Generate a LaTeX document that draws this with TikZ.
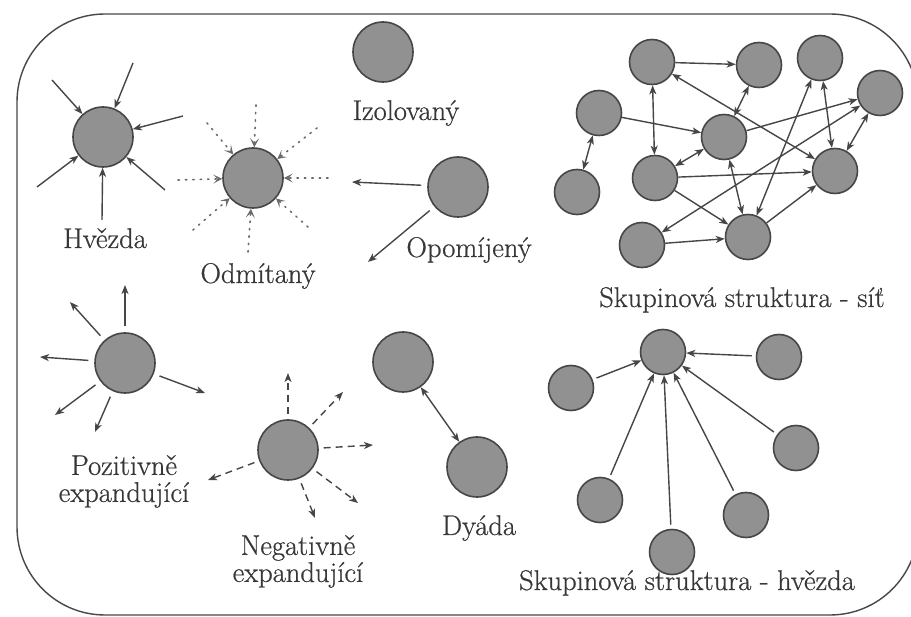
\documentclass[tikz,border=0pt]{standalone}
\usepackage{fontspec}
\newfontfamily\lblfont{Latin Modern Roman}[FakeBold=0.6]
\usetikzlibrary{arrows.meta}
\definecolor{cline}{RGB}{70,70,70}
\definecolor{cfill}{RGB}{145,145,145}
\definecolor{aline}{RGB}{70,70,70}
\definecolor{tcol}{RGB}{55,55,55}
\tikzset{
  pers/.style={circle, draw=cline, fill=cfill, line width=1.6pt, minimum size=60pt, inner sep=0pt},
  spers/.style={pers, minimum size=45pt},
  tip/.tip={Stealth[length=9pt,width=7pt,inset=2.5pt]},
  arr/.style={draw=aline, line width=1.4pt, -tip},
  darr/.style={draw=aline, line width=1.4pt, tip-tip},
  dotarr/.style={draw=aline!80, line width=1.6pt, dash pattern=on 1.4pt off 6pt, line cap=round,
     -{Stealth[length=9pt,width=9pt,inset=4.5pt]}},
  dasharr/.style={draw=aline, line width=1.4pt, dash pattern=on 7pt off 5pt, -tip},
  lbl/.style={text=tcol, font=\lblfont\fontsize{28.5}{27}\selectfont, inner sep=0pt, anchor=base},
  lbl2/.style={lbl, align=center, anchor=north},
  frame/.style={draw=black!72, line width=1.4pt, rounded corners=88pt}
}
\begin{document}
\begin{tikzpicture}[x=1pt, y=-1pt]
\useasboundingbox (0,0) rectangle (911,617);
\fill[white] (0,0) rectangle (911,617);
\draw[frame] (17,14) rectangle (918,615);

% Hvezda
\node[pers] (hv) at (103,137) {};
\coordinate (h1) at (52,80);
\coordinate (h2) at (133,63);
\coordinate (h3) at (183,116);
\coordinate (h4) at (165,190);
\coordinate (h5) at (102,220);
\coordinate (h6) at (37,187);
\foreach \c in {h1,h2,h3,h4,h5,h6} \draw[arr] (\c) -- (hv);
\node[lbl] (lhv) at (105,248) {Hvězda};

% Izolovany
\node[pers] (iz) at (383,52) {};
\node[lbl] (liz) at (406,120) {Izolovaný};

% Odmitany
\node[pers] (od) at (253,178) {};
\coordinate (o1) at (256,105);
\coordinate (o2) at (317,128);
\coordinate (o3) at (328,178);
\coordinate (o4) at (308,227);
\coordinate (o5) at (248,252);
\coordinate (o6) at (193,230);
\coordinate (o7) at (178,180);
\coordinate (o8) at (207,123);
\foreach \c in {o1,o2,o3,o4,o5,o6,o7,o8} \draw[dotarr] (\c) -- (od);
\node[lbl] (lod) at (258,283) {Odmítaný};

% Opomijeny
\node[pers] (op) at (458,187) {};
\coordinate (p1) at (352,182);
\coordinate (p2) at (368,262);
\draw[arr, shorten <=6pt] (op) -- (p1);
\draw[arr, shorten <=6pt] (op) -- (p2);
\node[lbl] (lop) at (469,257) {Opomíjený};

% Pozitivne expandujici
\node[pers] (pe) at (125,363) {};
\coordinate (e1) at (125,285);
\coordinate (e2) at (70,302);
\coordinate (e3) at (40,357);
\coordinate (e4) at (55,415);
\coordinate (e5) at (95,432);
\coordinate (e6) at (205,393);
\foreach \c in {e1,e2,e3,e4,e5,e6} \draw[arr, shorten <=6pt] (pe) -- (\c);
\node[lbl2] (lpe) at (124,455) {Pozitivně\\expandující};

% Negativne expandujici
\node[pers] (ne) at (288,450) {};
\coordinate (n1) at (288,373);
\coordinate (n2) at (343,392);
\coordinate (n3) at (373,445);
\coordinate (n4) at (358,503);
\coordinate (n5) at (315,518);
\coordinate (n6) at (208,480);
\foreach \c in {n1,n2,n3,n4,n5,n6} \draw[dasharr, shorten <=5pt] (ne) -- (\c);
\node[lbl2] (lne) at (298,535) {Negativně\\expandující};

% Dyada
\node[pers] (d1) at (403,362) {};
\node[pers] (d2) at (477,467) {};
\draw[darr] (d1) -- (d2);
\node[lbl] (ldy) at (479,535) {Dyáda};

% Skupinova struktura - sit
\node[spers] (N1) at (652,62) {};
\node[spers] (N2) at (759,65) {};
\node[spers] (N3) at (820,58) {};
\node[spers] (N4) at (880,93) {};
\node[spers] (N5) at (599,113) {};
\node[spers] (N6) at (724,137) {};
\node[spers] (N7) at (655,178) {};
\node[spers] (N8) at (835,171) {};
\node[spers] (N9) at (577,192) {};
\node[spers] (N10) at (642,245) {};
\node[spers] (N11) at (748,237) {};
\draw[arr] (N1) -- (N2);
\draw[darr] (N1) -- (N7);
\draw[darr] (N1) -- (N8);
\draw[arr] (N5) -- (N6);
\draw[darr] (N5) -- (N9);
\draw[darr] (N6) -- (N2);
\draw[arr] (N6) -- (N4);
\draw[darr] (N6) -- (N7);
\draw[darr] (N6) -- (N11);
\draw[darr] (N3) -- (N8);
\draw[darr] (N3) -- (N11);
\draw[darr] (N4) -- (N8);
\draw[darr] (N4) -- (N10);
\draw[arr] (N7) -- (N8);
\draw[arr] (N7) -- (N11);
\draw[arr] (N10) -- (N11);
\draw[arr] (N11) -- (N8);
\node[lbl] (lsit) at (742,307) {Skupinová struktura - síť};

% Skupinova struktura - hvezda
\node[spers] (C) at (663,352) {};
\node[spers] (S1) at (571,388) {};
\node[spers] (S2) at (779,357) {};
\node[spers] (S3) at (796,448) {};
\node[spers] (S4) at (600,500) {};
\node[spers] (S5) at (746,515) {};
\node[spers] (S6) at (672,552) {};
\foreach \s in {S1,S2,S3,S4,S5,S6} \draw[arr, shorten <=4pt] (\s) -- (C);
\node[lbl] (lhz) at (687,590) {Skupinová struktura - hvězda};
\end{tikzpicture}
\end{document}
